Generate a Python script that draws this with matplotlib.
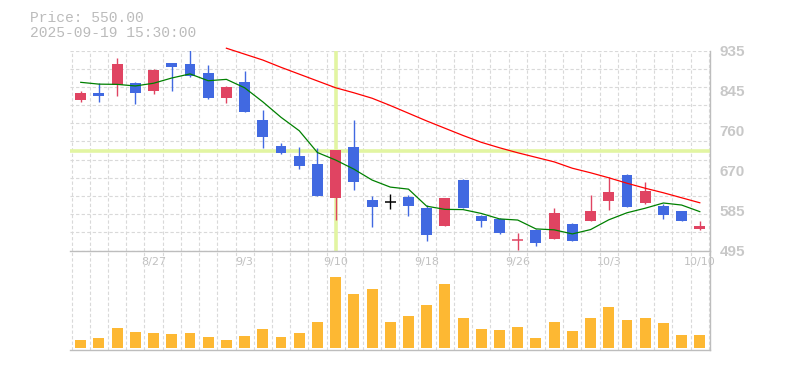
import matplotlib
matplotlib.use("Agg")
import matplotlib.pyplot as plt
import numpy as np

# trading days 2025-08-21 .. 2025-10-10
dates = ['8/21', '8/22', '8/25', '8/26', '8/27', '8/28', '8/29', '9/1', '9/2', '9/3',
         '9/4', '9/5', '9/8', '9/9', '9/10', '9/11', '9/12', '9/16', '9/17', '9/18',
         '9/19', '9/22', '9/24', '9/25', '9/26', '9/29', '9/30', '10/1', '10/2', '10/3',
         '10/6', '10/7', '10/8', '10/9', '10/10']
date_labels = ['8/27', '9/3', '9/10', '9/18', '9/26', '10/3', '10/10']

opens = [826, 841.5, 860, 863.5, 846.5, 907.5, 905, 885.5, 830.5, 865.5,
         782, 725, 703, 685.5, 611, 722.5, 606, 602.5, 612, 588.5,
         549.5, 650, 570, 565, 517, 539.5, 521, 553.5, 560.5, 604.5,
         661, 600, 593, 582, 543]
highs = [846, 863.5, 918.5, 866, 895, 907.5, 936, 903, 857, 890,
         804, 731.5, 722.5, 720, 716, 781.5, 615, 618.5, 617, 595,
         610, 652.5, 572.5, 565.5, 533, 541.5, 588.5, 555.5, 617, 656,
         663.5, 645.5, 598, 582, 560]
lows = [822, 822, 835, 817, 840, 846.5, 877.5, 828, 819.5, 800.5,
        721, 708, 675, 615.5, 562, 628, 547.5, 586.5, 571.5, 516,
        549.5, 589, 546.5, 532, 496, 505, 521, 516.5, 560.5, 585,
        591.5, 596.5, 565, 559, 540]
closes = [841.5, 835, 905, 841.5, 892, 899.5, 879.5, 830.5, 854.5, 800.5,
          745.5, 710, 681.5, 615.5, 716, 646.5, 591.5, 602.5, 593.5, 530,
          610, 589, 560.5, 534, 517.5, 512, 577.5, 516.5, 582, 623.5,
          591.5, 626, 574, 560.5, 550]

ma5 = [865, 861, 860.5, 857, 863, 874.5, 883.5, 868.5, 871.5, 853,
       822, 788, 758.5, 710.5, 694, 674, 650, 634.5, 630, 592.5,
       585.5, 585, 576.5, 564.5, 562, 542.5, 540.5, 531.5, 541, 562.5,
       578, 588, 599.5, 595, 580.5]
ma25 = [np.nan] * 8 + [940, 927, 914, 898, 883, 868, 853, 842, 830, 814,
                       797, 780, 764, 748, 733, 721, 710, 700, 690, 676,
                       666, 655, 643, 632, 622, 611, 600]

volumes = [24, 30, 60, 48, 45, 42, 45, 33, 24, 36,
           57, 33, 45, 78, 213, 162, 177, 78, 96, 129,
           192, 90, 57, 54, 63, 30, 78, 51, 90, 123,
           84, 90, 75, 39, 39]

price_ticks = ['495', '585', '670', '760', '845', '935']

UP = '#e04462'
DOWN = '#4169e1'
GRID = '#d9d9d9'
AXIS = '#bdbdbd'

fig = plt.figure(figsize=(7.85, 3.7), dpi=100)
ax = fig.add_axes([70 / 785, 119.5 / 370, 640 / 785, 200 / 370])
axv = fig.add_axes([70 / 785, 20 / 370, 640 / 785, 98 / 370])
axv.patch.set_visible(False)

x = np.arange(len(dates))
xlim = (-0.59, 34.56)

# price panel
ax.set_xlim(*xlim)
ax.set_ylim(495, 935)
for gx in np.arange(-0.5, len(dates), 1.0):
    ax.axvline(gx, color=GRID, lw=0.8, ls=(0, (3, 2)), zorder=0)
    axv.axvline(gx, color=GRID, lw=0.8, ls=(0, (3, 2)), zorder=0)
for gy in np.linspace(495, 935, 12):
    ax.axhline(gy, color=GRID, lw=0.8, ls=(0, (3, 2)), zorder=0)

# crosshair
ax.axvline(14, color='#e2f5a2', lw=2.6, zorder=1)
ax.axhline(714.5, color='#e2f5a2', lw=2.6, zorder=1)

for i in x:
    o, h, l, c = opens[i], highs[i], lows[i], closes[i]
    if c > o:
        col = UP
    elif c < o:
        col = DOWN
    else:
        col = 'black'
    ax.vlines(i, l, h, color=col, lw=1.0, zorder=3)
    if abs(c - o) < 1:
        ax.hlines(c, i - 0.3, i + 0.3, color=col, lw=1.1, zorder=3)
    else:
        ax.bar(i, abs(c - o), bottom=min(o, c), width=0.6, color=col, lw=0, zorder=3)

ax.plot(x, ma5, color='#008000', lw=0.9, zorder=4, clip_on=False)
ax.plot(x, ma25, color='#ff0000', lw=0.9, zorder=4, clip_on=False)

ax.yaxis.tick_right()
ax.set_yticks(np.linspace(495, 935, 6))
ax.set_yticklabels(price_ticks, fontsize=11, fontweight='bold', family='Liberation Sans', color='#c8c8c8')
ax.set_xticks([dates.index(d) for d in date_labels])
ax.set_xticklabels(date_labels, fontsize=8, color='#c0c0c0')
ax.tick_params(axis='both', length=0)
ax.tick_params(axis='y', pad=7)
ax.tick_params(axis='x', pad=5)
for s in ['left', 'top']:
    ax.spines[s].set_visible(False)
for s in ['right', 'bottom']:
    ax.spines[s].set_color(AXIS)
    ax.spines[s].set_linewidth(1.0)

# volume panel
axv.bar(x, volumes, width=0.6, color='#fdb833', lw=0, zorder=2)
axv.set_xlim(*xlim)
axv.set_ylim(-5, 288)
axv.set_xticks([])
axv.set_yticks([])
for s in ['left', 'top']:
    axv.spines[s].set_visible(False)
for s in ['right', 'bottom']:
    axv.spines[s].set_color(AXIS)
    axv.spines[s].set_linewidth(1.0)

fig.text(30 / 785, 1 - 18 / 370, 'Price: 550.00', family='Liberation Mono', fontsize=10.5,
         color='#bbbbbb', va='center', ha='left')
fig.text(30 / 785, 1 - 33 / 370, '2025-09-19 15:30:00', family='Liberation Mono', fontsize=10.5,
         color='#bbbbbb', va='center', ha='left')

fig.savefig('out.png', dpi=100)
